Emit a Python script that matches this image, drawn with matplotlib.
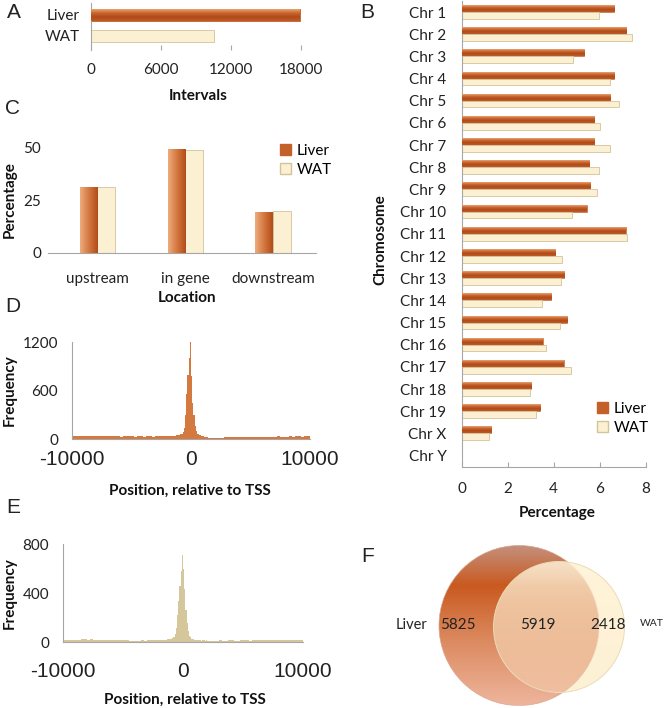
import numpy as np
import matplotlib
matplotlib.use("Agg")
import matplotlib.pyplot as plt
from matplotlib.patches import Circle, Patch
from matplotlib.colors import LinearSegmentedColormap

plt.rcParams['font.family'] = ['Lato', 'DejaVu Sans']
plt.rcParams['axes.unicode_minus'] = False

W, H = 667, 708

# ---- data ----
tissues = ["Liver", "WAT"]
intervals = [17900, 10500]

chromosomes = ["Chr 1", "Chr 2", "Chr 3", "Chr 4", "Chr 5", "Chr 6", "Chr 7",
               "Chr 8", "Chr 9", "Chr 10", "Chr 11", "Chr 12", "Chr 13", "Chr 14",
               "Chr 15", "Chr 16", "Chr 17", "Chr 18", "Chr 19", "Chr X", "Chr Y"]
chr_liver = [6.62, 7.16, 5.33, 6.62, 6.46, 5.77, 5.75, 5.54, 5.57, 5.43, 7.13,
             4.06, 4.45, 3.87, 4.59, 3.52, 4.43, 3.01, 3.40, 1.27, 0.0]
chr_wat = [5.97, 7.42, 4.84, 6.46, 6.85, 6.03, 6.46, 5.97, 5.88, 4.81, 7.17,
           4.35, 4.32, 3.51, 4.26, 3.68, 4.77, 2.99, 3.23, 1.20, 0.0]

locations = ["upstream", "in gene", "downstream"]
loc_liver = [31.0, 49.2, 19.2]
loc_wat = [31.3, 48.9, 19.9]

# histogram bins: coarse far from TSS, fine near it
tss_edges = list(range(-10000, -2000, 250)) + list(range(-2000, 2000, 100)) + list(range(2000, 10001, 250))
liver_tss = ([38, 40, 36, 41, 39, 37, 42, 38, 36, 40, 44, 37, 35, 39, 41, 36,
              34, 38, 40, 37, 35, 33, 38, 36, 34, 37, 35, 33, 36, 38, 40, 42]
             + [40, 38, 42, 40, 43, 45, 44, 48, 50, 52,
                55, 60, 70, 90, 140, 300, 560, 790, 1000, 1200,
                780, 450, 300, 170, 100, 70, 60, 50, 45, 40,
                35, 30, 28, 25, 22, 20, 20, 18, 20, 22]
             + [20, 18, 22, 25, 24, 28, 26, 30, 28, 27, 30, 32, 29, 31, 33, 30,
                28, 32, 34, 31, 33, 35, 32, 30, 34, 36, 33, 35, 37, 34, 38, 45])
wat_tss = ([20, 22, 19, 21, 18, 20, 23, 25, 22, 24, 21, 19, 18, 20, 17, 19,
            21, 22, 18, 16, 15, 17, 14, 13, 12, 14, 15, 13, 16, 15, 17, 18]
           + [18, 20, 17, 19, 21, 20, 22, 24, 25, 28,
              30, 35, 45, 65, 120, 220, 340, 460, 580, 710,
              600, 430, 260, 160, 90, 55, 40, 30, 25, 22,
              20, 18, 17, 15, 16, 14, 15, 16, 14, 15]
           + [14, 13, 12, 14, 15, 13, 14, 16, 15, 14, 13, 15, 17, 16, 14, 15,
              18, 17, 16, 15, 17, 19, 18, 16, 17, 18, 20, 19, 18, 20, 21, 22])

venn_labels = ["5825", "5919", "2418"]

# ---- style ----
LIVER = '#c4602a'
WAT = '#fbf0d2'
WAT_EDGE = '#d3c39a'
GRAY = '#a6a6a6'
TXT = '#222222'
liver_h = ['#eaa26e', '#c86530', '#b04a18', '#c05a28']   # across bar, top -> bottom
liver_v = ['#edac7c', '#d47840', '#b24c18']               # across bar, left -> right
TITLE = dict(fontsize=11, fontweight='bold', color='#111111')

fig = plt.figure(figsize=(W / 100, H / 100), dpi=100)


def px_axes(x0, y0, x1, y1):
    return fig.add_axes([x0 / W, 1 - y1 / H, (x1 - x0) / W, (y1 - y0) / H])


def ftext(x, y, s, **kw):
    fig.text(x / W, 1 - y / H, s, ha=kw.pop('ha', 'center'), va=kw.pop('va', 'center'), **kw)


def shade(ax, bars, colors, across):
    cmap = LinearSegmentedColormap.from_list("g", colors)
    g = np.linspace(0, 1, 64)
    img = g[:, None] if across == 'y' else g[None, :]
    for b in bars:
        if b.get_width() == 0 or b.get_height() == 0:
            continue
        x0, y0 = b.get_x(), b.get_y()
        ax.imshow(img, cmap=cmap, origin='lower', aspect='auto', zorder=3,
                  extent=(x0, x0 + b.get_width(), y0, y0 + b.get_height()))


def clean(ax):
    for s in ax.spines.values():
        s.set_visible(False)
    ax.tick_params(colors=TXT, length=0)


# ---- A ----
axA = px_axes(91, 3, 301, 50)
clean(axA)
ypos = [1, 0]
bA = axA.barh(ypos, intervals, height=0.55, color=[LIVER, WAT], edgecolor=[LIVER, WAT_EDGE], lw=0.6, zorder=2)
shade(axA, [bA[0]], liver_h[::-1], 'y')
axA.spines['left'].set_visible(True)
axA.spines['left'].set_color(GRAY)
axA.set_xlim(0, 18000)
axA.set_ylim(-0.67, 1.57)
axA.set_xticks([0, 6000, 12000, 18000])
axA.set_yticks(ypos, tissues)
axA.tick_params(axis='x', direction='in', length=3.5, color=GRAY, pad=9, labelsize=11)
axA.tick_params(axis='y', pad=8, labelsize=11)
ftext(198, 96, "Intervals", **TITLE)

# ---- B ----
axB = px_axes(461.7, 1, 645.7, 466.7)
clean(axB)
yc = np.arange(len(chromosomes))
bl = axB.barh(yc - 0.15, chr_liver, height=0.3, color=LIVER, edgecolor=LIVER, lw=0.4, zorder=2)
bw = axB.barh(yc + 0.15, chr_wat, height=0.3, color=WAT, edgecolor=WAT_EDGE, lw=0.6, zorder=2)
shade(axB, bl, liver_h, 'y')
for s in ('left', 'bottom'):
    axB.spines[s].set_visible(True)
    axB.spines[s].set_color(GRAY)
axB.set_xlim(0, 8)
axB.set_ylim(20.5, -0.5)
axB.set_xticks([0, 2, 4, 6, 8])
axB.set_yticks(yc, chromosomes)
axB.tick_params(axis='x', direction='in', length=3.5, color=GRAY, pad=11, labelsize=11)
axB.tick_params(axis='y', pad=11, labelsize=11)
axB.legend([Patch(facecolor=LIVER, edgecolor=LIVER), Patch(facecolor=WAT, edgecolor=WAT_EDGE)], tissues,
           loc='upper left', bbox_to_anchor=(597 / W, 1 - 402 / H), bbox_transform=fig.transFigure,
           frameon=False, fontsize=11, handlelength=0.7, handleheight=0.7, handletextpad=0.4,
           labelspacing=0.3, borderpad=0, borderaxespad=0)
ftext(380, 240, "Chromosome", rotation=90, **TITLE)
ftext(557, 513, "Percentage", **TITLE)

# ---- C ----
axC = px_axes(48, 147.7, 316, 252.7)
clean(axC)
xc = np.arange(len(locations))
cl = axC.bar(xc - 0.1, loc_liver, width=0.2, color=LIVER, edgecolor=LIVER, lw=0.4, zorder=2)
cw = axC.bar(xc + 0.1, loc_wat, width=0.2, color=WAT, edgecolor=WAT_EDGE, lw=0.6, zorder=2)
shade(axC, cl, liver_v, 'x')
axC.spines['bottom'].set_visible(True)
axC.spines['bottom'].set_color(GRAY)
axC.set_xlim(-0.56, 2.49)
axC.set_ylim(0, 50)
axC.set_yticks([0, 25, 50])
axC.set_xticks(xc, locations)
axC.tick_params(axis='y', pad=5, labelsize=11)
axC.tick_params(axis='x', pad=14, labelsize=11)
axC.legend([Patch(facecolor=LIVER, edgecolor=LIVER), Patch(facecolor=WAT, edgecolor=WAT_EDGE)], tissues,
           loc='upper left', bbox_to_anchor=(280 / W, 1 - 144 / H), bbox_transform=fig.transFigure,
           frameon=False, fontsize=11, handlelength=0.7, handleheight=0.7, handletextpad=0.4,
           labelspacing=0.3, borderpad=0, borderaxespad=0)
ftext(10, 200, "Percentage", rotation=90, **TITLE)
ftext(187, 298, "Location", **TITLE)

# ---- D ----
axD = px_axes(72, 342, 310, 439.3)
clean(axD)
axD.stairs(liver_tss, tss_edges, fill=True, color='#d47a40', zorder=2)
for s in ('left', 'bottom'):
    axD.spines[s].set_visible(True)
    axD.spines[s].set_color(GRAY)
axD.set_xlim(-10000, 10000)
axD.set_ylim(0, 1200)
axD.set_yticks([0, 600, 1200])
axD.set_xticks([-10000, 0, 10000])
axD.tick_params(axis='y', pad=10, labelsize=11)
axD.tick_params(axis='x', pad=8, labelsize=15)
for t in axD.get_xticklabels():
    t.set_family('Liberation Sans')
ftext(10, 390, "Frequency", rotation=90, **TITLE)
ftext(190, 491, "Position, relative to TSS", **TITLE)

# ---- E ----
axE = px_axes(63, 544, 303, 642.3)
clean(axE)
axE.stairs(wat_tss, tss_edges, fill=True, color='#d6c69c', zorder=2)
for s in ('left', 'bottom'):
    axE.spines[s].set_visible(True)
    axE.spines[s].set_color(GRAY)
axE.set_xlim(-10000, 10000)
axE.set_ylim(0, 800)
axE.set_yticks([0, 400, 800])
axE.set_xticks([-10000, 0, 10000])
axE.tick_params(axis='y', pad=10, labelsize=11)
axE.tick_params(axis='x', pad=14, labelsize=15)
for t in axE.get_xticklabels():
    t.set_family('Liberation Sans')
ftext(10, 593, "Frequency", rotation=90, **TITLE)
ftext(185, 700, "Position, relative to TSS", **TITLE)

# ---- F (Venn) ----
axF = px_axes(340, 530, 667, 708)
axF.set_axis_off()

liver_c = Circle((519, 625.5), 80, facecolor='none', edgecolor='#d9a68e', lw=0.5, zorder=2)
wat_base = Circle((559, 627), 65.5, facecolor='#fdf4da', edgecolor='none', zorder=0.5)
wat_c = Circle((559, 627), 65.5, facecolor='none', edgecolor='#eadcb8', lw=0.7, zorder=4)
axF.add_patch(wat_base)
axF.add_patch(liver_c)
axF.add_patch(wat_c)

lcmap = LinearSegmentedColormap.from_list("lv", [(0.0, '#c4907c'), (0.25, '#c95a20'),
                                                 (0.6, '#dc8a60'), (1.0, '#eeb59c')])
g = np.linspace(0, 1, 200)[:, None]
im = axF.imshow(g, cmap=lcmap, extent=(439, 599, 705.5, 545.5), origin='upper', aspect='auto', zorder=1)
im.set_clip_path(liver_c)

rgba = np.zeros((200, 1, 4))
rgba[..., 0] = 1.0
rgba[..., 1] = np.linspace(0.96, 0.93, 200)[:, None]
rgba[..., 2] = np.linspace(0.86, 0.80, 200)[:, None]
rgba[..., 3] = np.linspace(0.85, 0.3, 200)[:, None]
im2 = axF.imshow(rgba, extent=(493.5, 624.5, 692.5, 561.5), origin='upper', aspect='auto', zorder=3)
im2.set_clip_path(wat_c)
axF.set_xlim(340, 667)
axF.set_ylim(708, 530)

axF.text(411.7, 625, "Liver", fontsize=10.5, ha='center', va='center', color=TXT, zorder=5)
axF.text(458, 625, venn_labels[0], fontsize=11, ha='center', va='center', color=TXT, zorder=5)
axF.text(538, 625, venn_labels[1], fontsize=11, ha='center', va='center', color=TXT, zorder=5)
axF.text(608, 625, venn_labels[2], fontsize=11, ha='center', va='center', color=TXT, zorder=5)
axF.text(652, 624, "WAT", fontsize=7.5, ha='center', va='center', color=TXT, zorder=5)

# panel letters
for letter, (x, y) in zip("ABCDEF", [(14, 12.5), (367, 12), (13, 108), (13, 307), (13, 507.5), (368, 556)]):
    ftext(x, y, letter, fontsize=15, family='Liberation Sans', color=TXT)

fig.savefig("out.png", dpi=100)
